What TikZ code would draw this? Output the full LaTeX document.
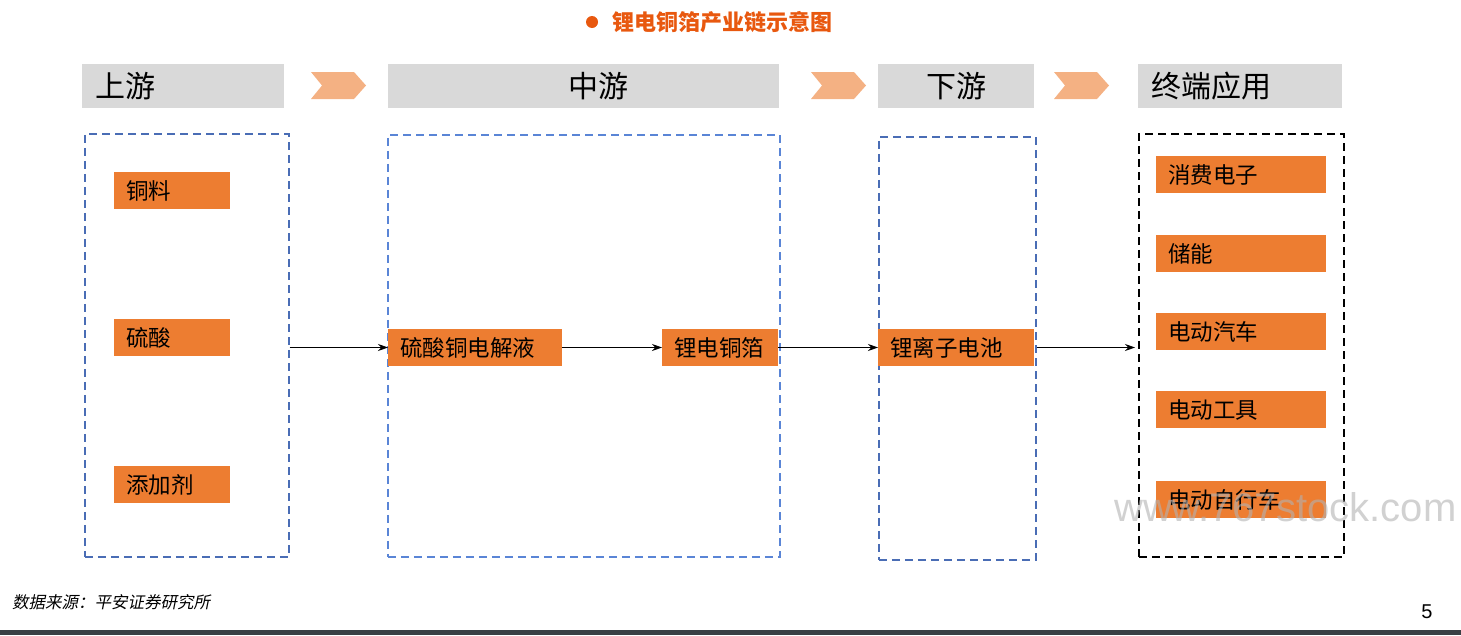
\documentclass[tikz,border=0pt]{standalone}
\usepackage{fontspec}
\setmainfont{Liberation Sans}
\newfontfamily\cjk{Noto Sans CJK SC}
\newfontfamily\cjkslant[FakeSlant=0.2]{Noto Sans CJK SC}
\usetikzlibrary{arrows.meta}
\definecolor{orng}{HTML}{ED7D31}
\definecolor{chevc}{HTML}{F4B183}
\definecolor{hgray}{HTML}{D9D9D9}
\definecolor{ttl}{HTML}{E8580F}
\definecolor{dblue}{HTML}{4A6DB5}
\definecolor{mblue}{HTML}{5A85D6}
\definecolor{barc}{HTML}{3A3F44}
\begin{document}
\begin{tikzpicture}[x=1pt,y=-1pt,
    hbar/.style={fill=hgray, minimum height=44pt, inner xsep=13pt, inner ysep=0pt, anchor=west, font=\cjk\fontsize{30}{30}\selectfont},
    obox/.style={fill=orng, minimum height=37pt, inner xsep=12pt, inner ysep=0pt, anchor=west, align=left, font=\cjk\fontsize{22.5}{22.5}\selectfont},
    dbox/.style={draw=dblue, dash pattern=on 8pt off 5pt, line width=1.6pt, anchor=north west, inner sep=0pt},
    arr/.style={-{Stealth[length=10pt,width=7pt]}, line width=0.8pt}]
        \useasboundingbox (0,0) rectangle (1461,635);

        \fill[ttl] (592,22) circle (6pt);
        \node[anchor=west, text=ttl, font=\cjk\bfseries\fontsize{22}{22}\selectfont] (title) at (609,22.5) {锂电铜箔产业链示意图};

        \node[hbar, text width=176pt, align=left] (shangyou) at (82,86) {上游};
        \node[hbar, text width=365pt, align=center] (zhongyou) at (388,86) {\hspace*{30pt}中游};
        \node[hbar, text width=130pt, align=center] (xiayou) at (878,86) {下游\hspace*{6pt}};
        \node[hbar, text width=178pt, align=left] (zhongduan) at (1138,86) {终端应用};

        \foreach \cx in {311,811,1054}
            \fill[chevc] (\cx,72) -- ++(43,0) -- ++(12,13.5) -- ++(-12,13.5) -- ++(-43,0) -- ++(11,-13.5) -- cycle;

        \node[dbox, minimum width=204pt, minimum height=423pt] (upbox) at (84,133) {};
        \node[dbox, draw=mblue, minimum width=392pt, minimum height=422pt] (midbox) at (387,134) {};
        \node[dbox, minimum width=157pt, minimum height=423pt] (downbox) at (878,136) {};
        \node[dbox, draw=black, minimum width=205pt, minimum height=423pt] (endbox) at (1138,133) {};

        \node[obox, text width=92pt] (tongliao) at (114,190.5) {铜料};
        \node[obox, text width=92pt] (liusuan) at (114,337.5) {硫酸};
        \node[obox, text width=92pt] (tianjia) at (114,484.5) {添加剂};

        \node[obox, text width=150pt] (dianjieye) at (388,347.5) {硫酸铜电解液};
        \node[obox, text width=92pt] (tongbo) at (662,347.5) {锂电铜箔};
        \node[obox, text width=132pt] (dianchi) at (878,347.5) {锂离子电池};

        \node[obox, text width=146pt] (xiaofei) at (1156,174.5) {消费电子};
        \node[obox, text width=146pt] (chuneng) at (1156,253.5) {储能};
        \node[obox, text width=146pt] (qiche) at (1156,331.5) {电动汽车};
        \node[obox, text width=146pt] (gongju) at (1156,409.5) {电动工具};
        \node[obox, text width=146pt] (zixingche) at (1156,499.5) {电动自行车};

        \draw[arr] (upbox.east |- dianjieye.west) -- (dianjieye.west);
        \draw[arr] (dianjieye.east) -- (tongbo.west);
        \draw[arr] (tongbo.east) -- (dianchi.west);
        \draw[arr, shorten >=3pt] (downbox.east |- dianchi.east) -- (endbox.west |- dianchi.east);

        \node[anchor=west, inner sep=0pt, text=gray!60, opacity=.6, font=\fontsize{40}{40}\selectfont] (mark) at (1114,507) {www.767stock.com};

        \node[anchor=west, inner sep=0pt, font=\cjkslant\fontsize{16.5}{16.5}\selectfont] (source) at (12,602) {数据来源：平安证券研究所};
        \node[font=\fontsize{20}{20}\selectfont] (page) at (1427,612) {5};
        \fill[barc] (0,630) rectangle (1461,635);
    \end{tikzpicture}
\end{document}
